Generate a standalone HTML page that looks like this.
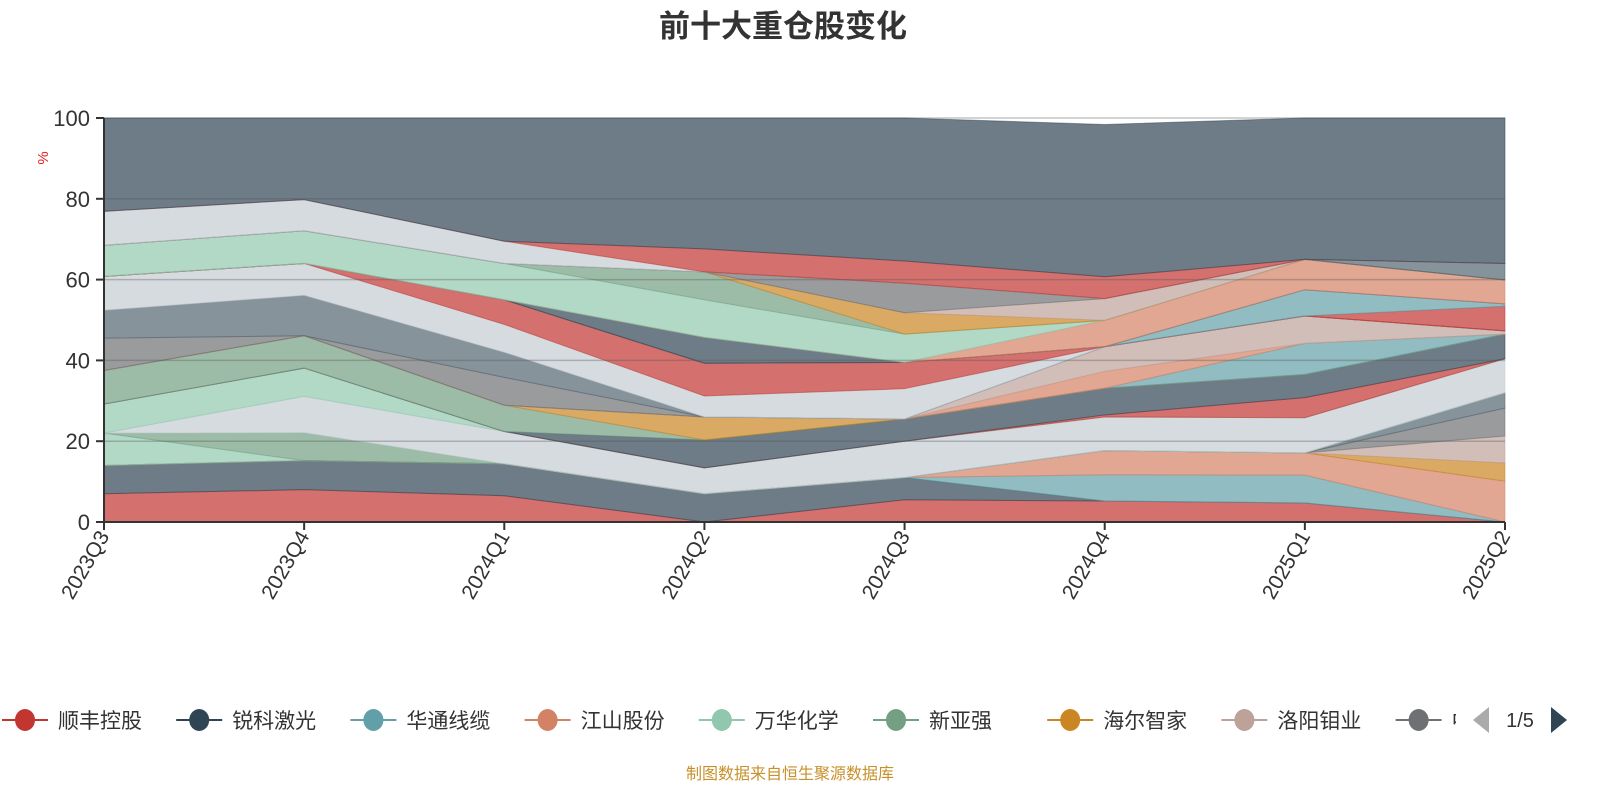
<!DOCTYPE html>
<html><head><meta charset="utf-8"><style>
body{margin:0;background:#fff;width:1600px;height:800px;overflow:hidden;font-family:"Liberation Sans","Noto Sans CJK SC",sans-serif}
svg{display:block}
</style></head><body>
<svg id="chart" width="1600" height="800" xmlns="http://www.w3.org/2000/svg">
<text x="783" y="37" text-anchor="middle" font-size="31" font-weight="bold" fill="#333" font-family="Liberation Sans,Noto Sans CJK SC,sans-serif">前十大重仓股变化</text>
<text x="0" y="0" transform="translate(48,158) rotate(-90)" text-anchor="middle" font-size="15" fill="#e02020">%</text>
<g id="plot"></g>
<g id="axes"></g>
<g id="legend"></g>
<text x="790" y="779" text-anchor="middle" font-size="16" fill="#c8902a" font-family="Liberation Sans,Noto Sans CJK SC,sans-serif">制图数据来自恒生聚源数据库</text>
</svg>
<script>
const categories = ["2023Q3","2023Q4","2024Q1","2024Q2","2024Q3","2024Q4","2025Q1","2025Q2"];
const yTicks = [0,20,40,60,80,100];
const legendNames = ["顺丰控股","锐科激光","华通线缆","江山股份","万华化学","新亚强","海尔智家","洛阳钼业","中国"];
const legendColors = ["#c23531","#2f4554","#61a0a8","#d48265","#91c7ae","#749f83","#ca8622","#bda29a","#6e7074"];
const seriesColors = ["#c23531","#2f4554","#61a0a8","#d48265","#ca8622","#bda29a","#6e7074","#546570","#91c7ae","#749f83","#c4ccd3","#91c7ae","#c23531","#2f4554","#749f83","#ca8622","#61a0a8","#d48265","#bda29a","#6e7074","#546570","#c4ccd3","#c23531","#c23531","#61a0a8","#2f4554","#d48265","#91c7ae","#749f83","#ca8622","#bda29a","#6e7074","#546570","#c4ccd3","#c23531","#2f4554"];
const s01=[7,8,6.5,0,5.5,5.2,4.7,0];
const s02=[7,7.2,7.9,7,5.5,0,0,0];
const s03=[0,0,0,0,0,6.5,6.9,0];
const s04=[0,0,0,0,0,6,5.5,10.1];
const s05=[0,0,0,0,0,0,0,4.5];
const s06=[0,0,0,0,0,0,0,6.7];
const s07=[0,0,0,0,0,0,0,6.9];
const s08=[0,0,0,0,0,0,0,3.8];
const s09=[8,0,0,0,0,0,0,0];
const s10=[0,6.9,0,0,0,0,0,0];
const s11=[0,9,8,6.4,9,8.3,8.7,8.4];
const s12=[7.2,7,0,0,0,0,0,0];
const s13=[0,0,0,0,0,0.5,5,0];
const s14=[0,0,0,6.9,5.5,6.6,5.7,6.1];
const s15=[8.3,8,6.5,0,0,0,0,0];
const s16=[0,0,0,5.7,0,0,0,0];
const s17=[0,0,0,0,0,0,7.7,0];
const s18=[0,0,0,0,0,4.2,0,0];
const s19=[0,0,0,0,0,6.1,6.8,0.8];
const s20=[8,0,6.9,0,0,0,0,0];
const s21=[6.9,10,6.2,0,0,0,0,0];
const s22=[8.4,7.9,6.9,5.2,7.5,0,0,0];
const s23=[0,0,6.1,8.1,6.5,0,0,0];
const s24=[0,0,0,0,0,0,0,6.1];
const s25=[0,0,0,0,0,0,6.5,0.6];
const s26=[0,0,0,6.4,0,0,0,0];
const s27=[0,0,0,0,0,6.5,7.5,5.9];
const s28=[7.7,8.1,9,9.3,7,0,0,0];
const s29=[0,0,0,6.9,0,0,0,0];
const s30=[0,0,0,0,5.3,0,0,0];
const s31=[0,0,0,0,0,5.4,0,0];
const s32=[0,0,0,0,7.3,0,0,0];
const s33=[0,0,0,0,0,0,0,4.1];
const s34=[8.4,7.7,5.5,0,0,0,0,0];
const s35=[0,0,0,5.7,5.5,5.4,0,0];
const s36=[23.1,20.2,30.5,32.4,35.4,37.7,35,36];
const seriesValues=[s01,s02,s03,s04,s05,s06,s07,s08,s09,s10,s11,s12,s13,s14,s15,s16,s17,s18,s19,s20,s21,s22,s23,s24,s25,s26,s27,s28,s29,s30,s31,s32,s33,s34,s35,s36];

const NS="http://www.w3.org/2000/svg";
const X0=104,X1=1505,Y0=522,Y1=118;
function xS(i){return X0+(X1-X0)*i/(categories.length-1);}
function yS(v){return Y0-(Y0-Y1)*v/100;}
function mk(tag,attrs,parent){const e=document.createElementNS(NS,tag);for(const k in attrs)e.setAttribute(k,attrs[k]);parent.appendChild(e);return e;}
const plot=document.getElementById('plot'),axes=document.getElementById('axes'),legend=document.getElementById('legend');

// grid
yTicks.forEach(t=>{
  if(t>0){const g=mk('line',{x1:X0,x2:X1,y1:yS(t),y2:yS(t),stroke:'#555','stroke-opacity':0.35,'stroke-width':1.5},axes);
  
  }
  const tk=mk('line',{x1:X0-8,x2:X0,y1:yS(t),y2:yS(t),stroke:'#333','stroke-width':2},axes);
  
  
  const lb=mk('text',{x:X0-14,y:yS(t)+8,'text-anchor':'end','font-size':22,fill:'#333'},axes);
  lb.textContent=t;
  
  
});

// stacked areas
const cum=categories.map(()=>0);
seriesValues.forEach((vals,si)=>{
  const lower=cum.slice();
  vals.forEach((v,i)=>{cum[i]+=v;});
  let d='M'+categories.map((c,i)=>xS(i)+','+yS(cum[i])).join(' L');
  for(let i=categories.length-1;i>=0;i--)d+=' L'+xS(i)+','+yS(lower[i]);
  d+='Z';
  const p=mk('path',{d:d,fill:seriesColors[si],'fill-opacity':0.7,stroke:seriesColors[si],'stroke-opacity':0.5,'stroke-width':1},plot);
  
  
});
plot.insertBefore(axes,null);
document.getElementById('chart').insertBefore(axes,legend);

// axes lines
const ya=mk('line',{x1:X0,x2:X0,y1:Y1,y2:Y0,stroke:'#333','stroke-width':2},axes);


const xa=mk('line',{x1:X0,x2:X1,y1:Y0,y2:Y0,stroke:'#333','stroke-width':2},axes);


categories.forEach((c,i)=>{
  const x=xS(i);
  const tk=mk('line',{x1:x,x2:x,y1:Y0,y2:Y0+8,stroke:'#333','stroke-width':2},axes);
  
  
  const lb=mk('text',{x:0,y:0,transform:'translate('+(x+6)+','+(Y0+14)+') rotate(-60)','text-anchor':'end','font-size':21,fill:'#333'},axes);
  lb.textContent=c;
  
  
});

// legend
legendNames.forEach((n,i)=>{
  const cx=25+i*174.2;
  const g=mk('g',{},legend);
  
  
  mk('line',{x1:cx-23,x2:cx+23,y1:720,y2:720,stroke:legendColors[i],'stroke-width':2},g);
  mk('ellipse',{cx:cx,cy:720,rx:10,ry:11,fill:legendColors[i]},g);
  const t=mk('text',{x:cx+33,y:728,'font-size':21,fill:'#333'},g);
  t.textContent=n;
});
const cover=mk('rect',{x:1456,y:700,width:144,height:40,fill:'#fff'},legend);


const pl=mk('path',{d:'M1489,707 L1489,733 L1473,720Z',fill:'#aaa'},legend);


const pt=mk('text',{x:1520,y:727,'text-anchor':'middle','font-size':20,fill:'#333'},legend);
pt.textContent='1/5';


const pr=mk('path',{d:'M1551,707 L1551,733 L1567,720Z',fill:'#2f4554'},legend);


</script>
</body></html>
